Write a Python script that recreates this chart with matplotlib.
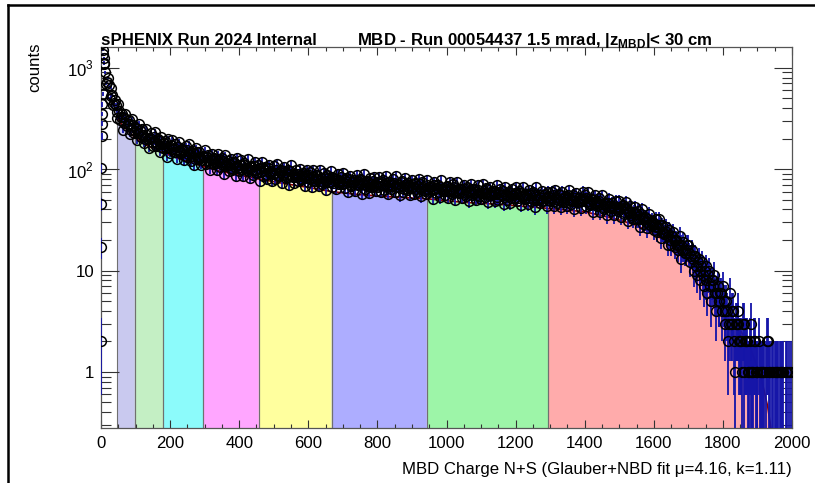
import numpy as np
import matplotlib
matplotlib.use("Agg")
import matplotlib.pyplot as plt
from matplotlib import font_manager
from matplotlib.lines import Line2D
from matplotlib.ticker import FixedLocator, FixedFormatter, NullFormatter

# %% Fonts: ROOT uses a narrow helvetica, take the narrow liberation if present
_names = {f.name for f in font_manager.fontManager.ttflist}
NARROW = "Liberation Sans Narrow" in _names
FONT = "Liberation Sans Narrow" if NARROW else "Liberation Sans"
FS = 1.0 if NARROW else 0.86
plt.rcParams["font.family"] = [FONT, "DejaVu Sans"]
plt.rcParams["mathtext.fontset"] = "custom"
plt.rcParams["mathtext.rm"] = FONT
plt.rcParams["mathtext.bf"] = FONT + ":bold"

# %% Data
# first few bins near zero charge: the rising edge and the spike
first_x = [0, 0.5, 1, 1, 1.5, 1.5, 2, 2, 2.5, 3, 3.5, 4, 4.5, 6, 7, 8, 9]
first_y = [2, 17, 45, 102, 210, 1900, 280, 2200, 350, 2000, 435, 1750, 550,
           1500, 1350, 1250, 1100]

# histogram, 5-unit bins starting at 10
BIN_W = 5
BIN_LO_A = 10
counts_a = [
    1120, 697, 794, 492, 636, 428, 479, 320, 437, 306, 347, 244, 348, 265, 304, 223, 310, 225,
    257, 192, 281, 206, 249, 180, 250, 197, 160, 228, 169, 232, 168, 198, 146, 205, 162, 188, 131, 199,
    143, 194, 149, 175, 126, 186, 145, 159, 122, 169, 131, 176, 119, 151, 109, 160, 126, 149, 111, 135,
    154, 112, 139, 99, 141, 113, 126, 98, 140, 106, 130, 90, 137, 107, 95, 127, 99, 117, 86, 129,
    96, 123, 86, 116, 99, 126, 82, 107, 88, 118, 92, 111, 77, 118, 85, 104, 80, 109, 91, 76,
    107, 79, 112, 85, 97, 73, 106, 81, 99, 69, 109, 83, 73, 97, 77, 101, 78, 91, 68, 98,
    74, 94, 66, 98, 76, 87, 68, 97, 72, 92, 62, 87, 75, 95, 67, 81, 63, 89, 71, 83,
    91, 65, 82, 60, 86, 68, 75, 61, 87, 70, 80, 57, 89, 64, 77, 58, 81, 66, 84, 61,
    67, 84, 59, 78, 62, 85, 57, 74, 64, 80, 60, 85, 66, 55, 77, 60, 81, 62, 73, 56,
    78, 57, 73, 60, 80, 54, 74, 62, 57, 78, 60, 68, 51, 75, 58, 70, 53, 78, 61, 56,
    68, 52, 74, 57, 71, 50, 74, 58, 64, 52, 70, 54, 67, 48, 72, 55, 64, 50, 70, 54,
    51, 72, 53, 65, 47, 67, 55, 61, 48, 70, 50, 64, 55, 45, 66, 50, 60, 46, 64, 52,
    66, 49, 61, 44, 66, 51, 57, 45, 62, 49, 60, 42, 66, 50, 46, 61, 48, 57, 43, 60,
    48, 60, 43, 62, 46, 57, 42, 60, 47, 54, 43, 62, 45, 56, 40, 58, 47, 52, 41, 60,
    55, 43, 59, 44, 50, 38, 55, 43, 52, 38, 55, 40, 45, 35, 51, 39, 46, 35, 48, 39,
    49, 34, 44, 36, 47, 31, 43, 35, 32, 42, 32, 39, 27, 40, 29, 34, 26, 36, 28, 31,
    25, 32, 24, 32, 21, 28, 23, 27, 18, 25, 18, 24, 17, 20, 16, 22, 13, 19, 15, 18,
    18, 12, 16, 10, 14, 9, 13, 8, 12, 7, 11, 6, 10, 5, 8, 9, 4, 7, 5, 6,
    7, 3, 5, 2, 6, 3, 4, 1, 3, 4, 2, 1, 3, 2, 2, 1, 3, 1, 2, 1,
    1, 2, 1, 0, 1, 1, 2, 1, 0, 1, 1, 0, 1, 1, 0, 1, 0, 1, 1, 0,
]
# the bins in between (offset by half a bin)
BIN_LO_B = 12.5
counts_b = [
    900, 720, 671, 525, 537, 446, 426, 366, 377, 329, 325, 288, 312, 279, 279, 241, 274, 237,
    249, 225, 245, 218, 219, 199, 219, 200, 204, 184, 205, 186, 178, 188, 164, 177, 182, 161, 167, 160,
    173, 158, 160, 149, 167, 152, 144, 155, 136, 155, 142, 146, 135, 145, 127, 147, 130, 133, 124, 133,
    124, 132, 116, 126, 122, 129, 115, 121, 126, 112, 119, 108, 114, 119, 110, 102, 114, 106, 110, 102,
    109, 101, 111, 102, 103, 96, 106, 98, 108, 99, 93, 102, 94, 102, 97, 88, 102, 93, 96, 89,
    92, 98, 86, 93, 96, 87, 93, 83, 89, 95, 85, 90, 83, 90, 85, 80, 90, 83, 87, 81,
    87, 81, 84, 77, 88, 80, 77, 82, 74, 83, 77, 81, 75, 83, 73, 77, 80, 75, 77, 72,
    73, 78, 74, 80, 70, 75, 78, 72, 74, 69, 78, 72, 74, 69, 75, 66, 72, 76, 70, 74,
    73, 68, 75, 70, 72, 66, 74, 68, 70, 73, 66, 71, 66, 74, 68, 63, 71, 67, 69, 65,
    67, 71, 63, 68, 71, 63, 66, 61, 69, 64, 67, 62, 70, 63, 65, 60, 67, 63, 65, 61,
    66, 61, 63, 59, 66, 61, 63, 59, 63, 60, 57, 64, 59, 61, 64, 58, 60, 55, 62, 58,
    58, 61, 58, 63, 55, 59, 56, 61, 57, 53, 59, 56, 61, 53, 57, 54, 58, 52, 56, 58,
    57, 52, 58, 54, 55, 52, 56, 52, 55, 58, 50, 56, 51, 56, 52, 49, 55, 52, 54, 50,
    52, 55, 49, 53, 50, 55, 48, 52, 53, 47, 55, 50, 50, 48, 52, 47, 52, 50, 48, 51,
    52, 47, 49, 45, 51, 46, 48, 44, 48, 45, 42, 46, 43, 46, 43, 41, 43, 41, 42, 40,
    41, 43, 38, 41, 41, 37, 38, 34, 38, 36, 36, 32, 36, 32, 32, 30, 32, 29, 30, 28,
    29, 27, 27, 28, 24, 24, 23, 24, 22, 20, 22, 20, 20, 18, 18, 18, 16, 16, 15, 16,
    15, 14, 13, 14, 11, 12, 10, 11, 9, 10, 8, 9, 7, 8, 7, 6, 6, 5, 6, 4,
    5, 4, 4, 3, 3, 4, 2, 3, 3, 2, 2, 3, 1, 2, 1, 2, 1, 1, 2, 1,
    0, 1, 1, 1, 0, 2, 1, 0, 1, 0, 1, 1, 0, 1, 1, 0, 1, 0, 0, 1,
]
assert len(counts_a) == 398 and len(counts_b) == 398

# Glauber+NBD fit curve, used as the top of the centrality bands
fit_x = [47, 60, 75, 98, 120, 150, 180, 220, 260, 296, 350, 400, 457, 520,
         600, 668, 750, 850, 943, 1050, 1150, 1295, 1400, 1480, 1550, 1600,
         1650, 1700, 1750, 1800, 1840, 1880, 1910, 1930, 1945]
fit_y = [320, 275, 245, 205, 180, 160, 145, 128, 116, 106, 95, 87, 80, 73,
         66, 60, 56, 53, 51, 47, 45, 41, 38, 33, 28, 23, 18, 12.5, 8.0, 4.8,
         3.0, 1.7, 0.9, 0.45, 0.2]

# centrality bin edges and fill colours
band_edges = [47, 98, 180, 296, 457, 668, 943, 1295, 1945]
band_colors = ["#c9c9ef", "#c4efc4", "#8cfbfb", "#ffa6ff", "#ffff9e",
               "#adadff", "#9df5a8", "#ffabab"]

x_ticks = [0, 200, 400, 600, 800, 1000, 1200, 1400, 1600, 1800, 2000]
y_ticks = [1, 10, 100, 1000]
y_labels = ["1", "10", r"$10^{2}$", r"$10^{3}$"]

# %% Figure
W, H = 815, 483
fig = plt.figure(figsize=(W / 100, H / 100), dpi=100)
L, R, T, B = 101, 792, 47, 428
ax = fig.add_axes([L / W, 1 - B / H, (R - L) / W, (B - T) / H])
ax.set_yscale("log")
ax.set_xlim(0, 2000)
ax.set_ylim(0.28, 1600)

# bands under the fit
fx = np.asarray(fit_x, float)
fy = np.asarray(fit_y, float)
for lo, hi, col in zip(band_edges[:-1], band_edges[1:], band_colors):
    m = (fx >= lo) & (fx <= hi)
    ax.fill_between(fx[m], 1e-3, fy[m], color=col, lw=0, zorder=1)
    ax.vlines([lo, hi], 1e-3, [fy[m][0], fy[m][-1]], color="#707070", lw=0.8, zorder=1.5)
ax.plot(fx, fy, color="#8b0000", lw=1.2, zorder=2)

# histogram points with poisson errors
ca = np.asarray(counts_a, float)
cb = np.asarray(counts_b, float)
xs = np.concatenate([np.asarray(first_x, float),
                     BIN_LO_A + BIN_W * np.arange(len(ca)),
                     BIN_LO_B + BIN_W * np.arange(len(cb))])
ys = np.concatenate([np.asarray(first_y, float), ca, cb])
keep = ys > 0
xs, ys = xs[keep], ys[keep]
err = np.sqrt(ys)
ax.vlines(xs, np.maximum(ys - err, 1e-3), ys + err, color="#1414a8", lw=1.3, zorder=3)
ax.plot(xs, ys, ls="none", marker="o", ms=7, mfc="none", mec="black", mew=1.1, zorder=4)

# axes styling, ROOT-like
ax.xaxis.set_major_locator(FixedLocator(x_ticks))
ax.xaxis.set_minor_locator(FixedLocator(np.arange(0, 2001, 50)))
ax.yaxis.set_major_locator(FixedLocator(y_ticks))
ax.yaxis.set_major_formatter(FixedFormatter(y_labels))
ax.yaxis.set_minor_locator(FixedLocator(
    [m * 10.0 ** e for e in range(-1, 4) for m in range(2, 10)]))
ax.yaxis.set_minor_formatter(NullFormatter())
ax.tick_params(axis="both", which="both", direction="in", top=True, right=True,
               colors="#333333", labelcolor="black")
ax.tick_params(axis="x", which="major", length=6, width=0.8, pad=6,
               labelsize=14 * FS)
ax.tick_params(axis="x", which="minor", length=3, width=0.8)
ax.tick_params(axis="y", which="major", length=13, width=0.8, pad=5,
               labelsize=14 * FS)
ax.tick_params(axis="y", which="minor", length=7, width=0.8)
for sp in ax.spines.values():
    sp.set_color("#555555")
    sp.set_linewidth(0.9)

# titles
fig.text(L / W, 1 - 45 / H, "sPHENIX Run 2024 Internal", fontsize=14 * FS,
         fontweight="bold", ha="left", va="baseline")
fig.text(357 / W, 1 - 45 / H,
         r"MBD - Run 00054437 1.5 mrad, |z$_{\mathbf{MBD}}$|< 30 cm",
         fontsize=14 * FS, fontweight="bold", ha="left", va="baseline")
fig.text(R / W, 1 - 474 / H, "MBD Charge N+S (Glauber+NBD fit \u03bc=4.16, k=1.11)",
         fontsize=14 * FS, ha="right", va="baseline")
fig.text(42 / W, 1 - 42 / H, "counts", fontsize=14 * FS, rotation=90,
         ha="right", va="top")

# outer frame of the canvas (left and top edges)
fig.add_artist(Line2D([8 / W, 8 / W], [0, 1 - 5 / H], color="black", lw=1.8))
fig.add_artist(Line2D([8 / W, 1], [1 - 5 / H, 1 - 5 / H], color="black", lw=1.8))

fig.savefig("out.png", dpi=100)
